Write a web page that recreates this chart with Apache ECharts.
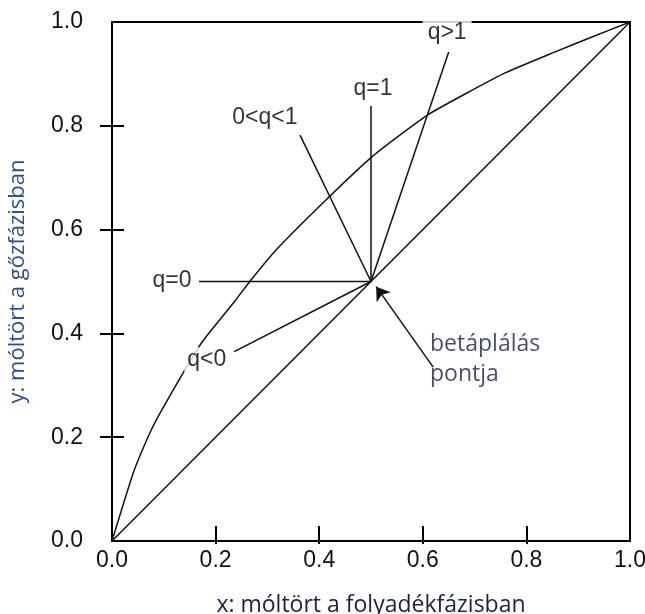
<!DOCTYPE html>
<html>
<head>
<meta charset="utf-8">
<script src="https://cdn.jsdelivr.net/npm/echarts@6/dist/echarts.min.js"></script>
<style>
  html, body { margin: 0; padding: 0; background: #fff; }
  #chart { width: 645px; height: 614px; }
</style>
</head>
<body>
<div id="chart"></div>
<script>
// tick values
var labelValues = [0, 0.2, 0.4, 0.6, 0.8, 1.0];
var tickValues = [0.2, 0.4, 0.6, 0.8];

// equilibrium curve
var eqX = [0, 0.041, 0.073, 0.093, 0.141, 0.175, 0.237, 0.266, 0.318, 0.414, 0.504, 0.611, 0.755, 0.852, 0.929, 1];
var eqY = [0, 0.131, 0.208, 0.247, 0.330, 0.385, 0.462, 0.500, 0.562, 0.658, 0.742, 0.822, 0.900, 0.941, 0.972, 1];

// y = x line
var diagX = [0, 1];
var diagY = [0, 1];

// feed point and the q-line ends
var feedPoint = [0.5, 0.5];
var qNames = ['q>1', 'q=1', '0<q<1', 'q=0', 'q<0'];
var qEndX = [0.650, 0.500, 0.363, 0.168, 0.236];
var qEndY = [0.942, 0.838, 0.782, 0.500, 0.365];
var qLabelX = [0.647, 0.504, 0.295, 0.116, 0.183];
var qLabelY = [0.971, 0.871, 0.815, 0.501, 0.349];

// arrow pointing at the feed point
var arrowFrom = [0.620, 0.335];
var arrowTo = [0.510, 0.490];
var feedText = 'betáplálás\npontja';
var feedTextAt = [0.614, 0.349];

var chart = document.getElementById('chart');
var myChart = echarts.init(chart);

function pairs(xs, ys) {
  var out = [];
  for (var i = 0; i < xs.length; i++) out.push([xs[i], ys[i]]);
  return out;
}

var lineStyle = { color: '#111', width: 1.5 };
var tickFont = { fontFamily: 'Liberation Sans', fontSize: 23, color: '#111' };
var textFont = 'Open Sans';

var series = [
  {
    type: 'line', data: pairs(diagX, diagY), symbol: 'none',
    lineStyle: lineStyle, silent: true
  },
  {
    type: 'line', data: pairs(eqX, eqY), symbol: 'none', smooth: 0.15,
    lineStyle: lineStyle, silent: true
  }
];

for (var i = 0; i < qNames.length; i++) {
  series.push({
    type: 'line', data: [feedPoint, [qEndX[i], qEndY[i]]], symbol: 'none',
    lineStyle: lineStyle, silent: true
  });
}

series.push({
  type: 'lines', coordinateSystem: 'cartesian2d',
  symbol: ['none', 'arrow'], symbolSize: 13,
  lineStyle: { color: '#111', width: 1.5, opacity: 1 },
  data: [{ coords: [arrowFrom, arrowTo] }],
  silent: true
});

// q labels, white box so they break the lines under them
series.push({
  type: 'scatter', z: 10, symbolSize: 0, silent: true,
  data: pairs(qLabelX, qLabelY).map(function (p, i) {
    var lab = {
      show: true, position: 'inside', formatter: qNames[i],
      fontFamily: 'Liberation Sans', fontSize: 23, color: '#000',
      backgroundColor: '#fff', padding: [1, 3, 1, 3]
    };
    if (i === 0) { lab.padding = [10, 5, 2, 5]; lab.offset = [0, -4]; }
    return { value: p, label: lab };
  })
});

series.push({
  type: 'scatter', z: 10, symbolSize: 0, silent: true,
  data: [{ value: feedTextAt }],
  label: {
    show: true, position: 'right', distance: 0, formatter: feedText,
    fontFamily: textFont, fontSize: 23, lineHeight: 30, color: '#1a1f4d'
  }
});

var option = {
  animation: false,
  grid: { left: 112, top: 22, width: 518, height: 519, outerBoundsMode: 'none', containLabel: false },
  xAxis: [
    {
      type: 'value', min: 0, max: 1, interval: 0.2, position: 'bottom',
      axisLine: { show: true, onZero: false, lineStyle: { color: '#000', width: 2 } },
      axisTick: { show: true, inside: true, length: 15, customValues: tickValues, lineStyle: { color: '#000', width: 2 } },
      axisLabel: Object.assign({ margin: 8, customValues: labelValues, formatter: function (v) { return v.toFixed(1); } }, tickFont),
      splitLine: { show: false },
      name: 'x: móltört a folyadékfázisban', nameLocation: 'middle', nameGap: 53,
      nameTextStyle: { fontFamily: textFont, fontSize: 23, color: '#1a1f4d' }
    },
    {
      type: 'value', min: 0, max: 1, position: 'bottom',
      axisLine: { show: false, onZero: false },
      axisTick: { show: true, inside: false, length: 3, customValues: tickValues, lineStyle: { color: '#000', width: 2 } },
      axisLabel: { show: false }, splitLine: { show: false }
    },
    {
      type: 'value', min: 0, max: 1, position: 'top',
      axisLine: { show: true, onZero: false, lineStyle: { color: '#000', width: 2 } },
      axisTick: { show: false }, axisLabel: { show: false }, splitLine: { show: false }
    }
  ],
  yAxis: [
    {
      type: 'value', min: 0, max: 1, interval: 0.2, position: 'left',
      axisLine: { show: true, onZero: false, lineStyle: { color: '#000', width: 2 } },
      axisTick: { show: true, inside: true, length: 12, customValues: tickValues, lineStyle: { color: '#000', width: 2 } },
      axisLabel: Object.assign({ margin: 29, customValues: labelValues, formatter: function (v) { return v.toFixed(1); } }, tickFont),
      splitLine: { show: false },
      name: 'y: móltört a gőzfázisban', nameLocation: 'middle', nameGap: 83,
      nameTextStyle: { fontFamily: textFont, fontSize: 22, color: '#2d4f96' }
    },
    {
      type: 'value', min: 0, max: 1, position: 'left',
      axisLine: { show: false, onZero: false },
      axisTick: { show: true, inside: false, length: 12, customValues: tickValues, lineStyle: { color: '#000', width: 2 } },
      axisLabel: { show: false }, splitLine: { show: false }
    },
    {
      type: 'value', min: 0, max: 1, position: 'right',
      axisLine: { show: true, onZero: false, lineStyle: { color: '#000', width: 2 } },
      axisTick: { show: false }, axisLabel: { show: false }, splitLine: { show: false }
    }
  ],
  series: series
};

myChart.setOption(option);
</script>
</body>
</html>
